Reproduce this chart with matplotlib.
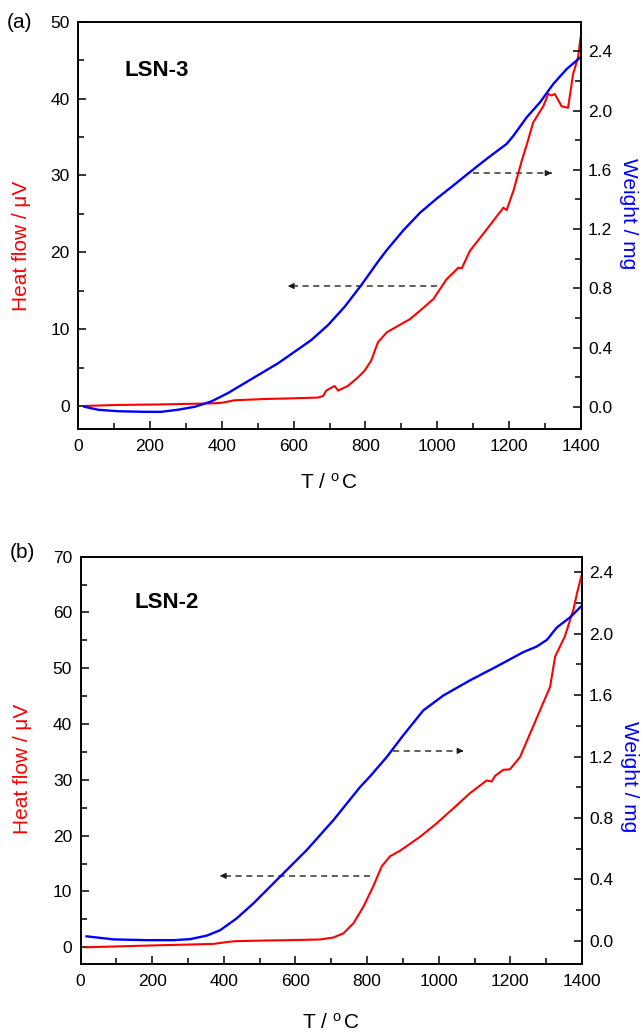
# TG / DTA curves of LSN-3 and LSN-2 (heat flow + weight vs temperature)

import numpy as np
import matplotlib
matplotlib.use('Agg')
import matplotlib.pyplot as plt
from matplotlib.ticker import MultipleLocator

plt.rcParams['font.family'] = ['Liberation Sans', 'DejaVu Sans']
plt.rcParams['mathtext.fontset'] = 'custom'
plt.rcParams['mathtext.rm'] = 'Liberation Sans'
plt.rcParams['mathtext.it'] = 'Liberation Sans:italic'

# DATA #
# (a) LSN-3
a_heat_T = [18, 111, 232, 371, 399, 436, 519, 603, 668, 682, 691, 710, 714, 724, 742,
            751, 761, 779, 798, 816, 835, 860, 890, 924, 952, 989, 1026, 1059, 1068,
            1091, 1128, 1156, 1184, 1193, 1212, 1235, 1249, 1267, 1295, 1309, 1318,
            1327, 1346, 1364, 1378, 1392, 1399]
a_heat = [0.0, 0.13, 0.2, 0.33, 0.4, 0.74, 0.9, 1.0, 1.09, 1.3, 2.0, 2.5, 2.6, 2.0, 2.4,
          2.6, 3.0, 3.7, 4.6, 5.9, 8.3, 9.6, 10.4, 11.3, 12.4, 13.9, 16.5, 18.0, 17.9,
          20.2, 22.4, 24.1, 25.8, 25.5, 28.0, 31.9, 34.0, 36.9, 39.0, 40.6, 40.4,
          40.6, 39.0, 38.8, 43.2, 45.4, 48.0]
a_wt_T = [18, 56, 111, 186, 232, 278, 325, 371, 417, 464, 557, 649, 696, 742, 788, 835,
          859, 905, 952, 998, 1045, 1091, 1138, 1193, 1212, 1249, 1286, 1323, 1360, 1396]
a_wt = [0.0, -0.02, -0.03, -0.034, -0.034, -0.02, 0.0, 0.036, 0.092, 0.16, 0.294, 0.45,
        0.552, 0.675, 0.82, 0.98, 1.057, 1.19, 1.31, 1.405, 1.495, 1.585, 1.675, 1.775,
        1.83, 1.955, 2.056, 2.18, 2.28, 2.355]

# (b) LSN-2
b_heat_T = [17, 185, 371, 417, 436, 510, 603, 669, 706, 734, 762, 790, 817, 841, 864,
            892, 948, 994, 1041, 1087, 1134, 1148, 1157, 1180, 1199, 1227, 1255, 1283,
            1311, 1325, 1334, 1352, 1376, 1387, 1399]
b_heat = [0.0, 0.3, 0.6, 1.0, 1.1, 1.2, 1.3, 1.4, 1.75, 2.5, 4.3, 7.3, 10.9, 14.5, 16.3,
          17.3, 19.8, 22.2, 24.9, 27.6, 29.9, 29.7, 30.7, 31.8, 31.9, 34.1, 38.3, 42.5,
          46.7, 52.1, 53.3, 55.7, 60.5, 63.7, 66.7]
b_wt_T = [17, 93, 185, 260, 307, 353, 390, 436, 483, 557, 631, 706, 780, 808, 855, 901,
          957, 1013, 1087, 1162, 1236, 1274, 1302, 1330, 1367, 1399]
b_wt = [0.03, 0.01, 0.005, 0.005, 0.012, 0.035, 0.07, 0.147, 0.245, 0.418, 0.59, 0.786,
        1.0, 1.07, 1.197, 1.338, 1.5, 1.597, 1.695, 1.786, 1.879, 1.916, 1.959, 2.04,
        2.106, 2.18]

# dashed arrows: (T start, T end, heat-flow level)
a_arrows = [(998, 584, 15.6), (1100, 1318, 30.3)]
b_arrows = [(808, 389, 12.8), (873, 1069, 35.2)]

W, H = 643, 1032


def style_axes(ax, ax2, ymax, ystep, wlim):
    ax.set_xlim(0, 1400)
    ax.set_ylim(-3, ymax)
    ax2.set_ylim(*wlim)
    ax.xaxis.set_major_locator(MultipleLocator(200))
    ax.xaxis.set_minor_locator(MultipleLocator(100))
    ax.yaxis.set_major_locator(MultipleLocator(ystep))
    ax.yaxis.set_minor_locator(MultipleLocator(ystep / 2))
    ax2.yaxis.set_major_locator(MultipleLocator(0.4))
    ax2.yaxis.set_minor_locator(MultipleLocator(0.2))
    ax2.yaxis.set_major_formatter(matplotlib.ticker.FormatStrFormatter('%.1f'))
    for a in (ax, ax2):
        a.tick_params(which='both', direction='in', labelsize=12.5, width=1.1, top=False)
        a.tick_params(which='major', length=6)
        a.tick_params(which='minor', length=4)
        for s in a.spines.values():
            s.set_linewidth(1.2)
    ax.tick_params(axis='y', right=False, pad=6)
    ax2.tick_params(axis='y', pad=5)
    ax.tick_params(axis='x', pad=7)


def draw_arrows(ax, arrows):
    for t0, t1, y in arrows:
        ax.plot([t0, t1], [y, y], ls='--', color='0.2', lw=1.1, dashes=(4, 3))
        d = 12 if t1 < t0 else -12
        ax.annotate('', xy=(t1, y), xytext=(t1 + d, y),
                    arrowprops=dict(arrowstyle='-|>', color='0.1', lw=0.8,
                                    mutation_scale=9, shrinkA=0, shrinkB=0))


def panel(rect, heat_T, heat, wt_T, wt, ymax, ystep, wlim, arrows, name, name_xy,
          tag, tag_xy, ylab_pos, wlab_pos, xlab_y):
    ax = fig.add_axes(rect)
    ax2 = ax.twinx()
    ax.plot(heat_T, heat, color='red', lw=1.5, zorder=3)
    ax2.plot(wt_T, wt, color='blue', lw=1.7)
    style_axes(ax, ax2, ymax, ystep, wlim)
    draw_arrows(ax, arrows)
    ax.set_xlabel(r'T / $^{\mathrm{o}}\,$C', fontsize=15, va='center')
    ax.xaxis.set_label_coords(0.5, xlab_y)
    ax.set_ylabel('Heat flow / \u03bcV', color='red', fontsize=15, va='center')
    ax.yaxis.set_label_coords(*ylab_pos)
    ax2.set_ylabel('Weight / mg', color='blue', fontsize=15, rotation=270, va='center')
    ax2.yaxis.set_label_coords(*wlab_pos)
    fig.text(name_xy[0] / W, 1 - name_xy[1] / H, name, fontsize=16, fontweight='bold',
             ha='left', va='center')
    fig.text(tag_xy[0] / W, 1 - tag_xy[1] / H, tag, fontsize=15, ha='center', va='center')
    return ax, ax2


fig = plt.figure(figsize=(W / 100, H / 100), dpi=100)

panel([78 / W, 1 - 429 / H, 503 / W, 407.3 / H], a_heat_T, a_heat, a_wt_T, a_wt,
      50, 10, (-0.15, 2.6), a_arrows, 'LSN-3', (125, 70), '(a)', (20, 22),
      (-0.112, 0.45), (1.095, 0.53), -0.132)
panel([80.5 / W, 1 - 964 / H, 501.5 / W, 407.3 / H], b_heat_T, b_heat, b_wt_T, b_wt,
      70, 10, (-0.15, 2.5), b_arrows, 'LSN-2', (135, 603), '(b)', (22, 553),
      (-0.116, 0.48), (1.095, 0.46), -0.145)

fig.savefig('out.png', dpi=100)
